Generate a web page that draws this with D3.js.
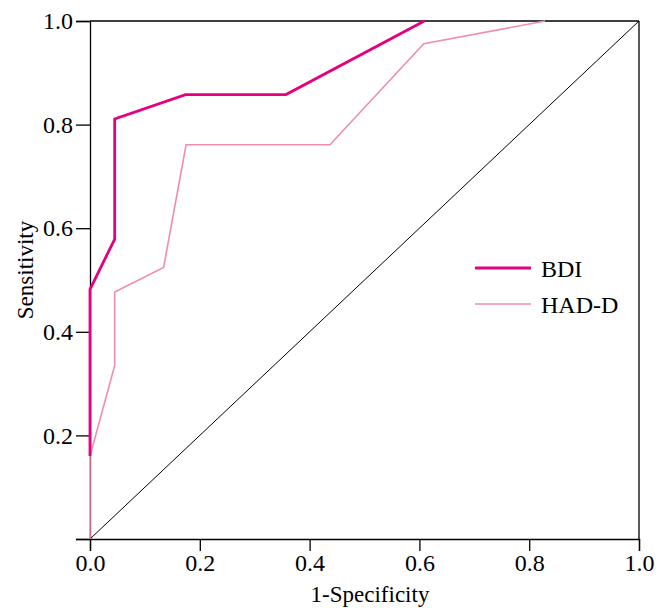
<!DOCTYPE html>
<html><head><meta charset="utf-8">
<script src="https://cdn.jsdelivr.net/npm/d3@7/dist/d3.min.js"></script>
<style>body{margin:0;background:#fff}text{font-family:"Liberation Serif","Times New Roman",serif}</style>
</head><body><svg id="c" width="664" height="608"></svg>
<script>
const bdiX = [0, 0, 0.045, 0.045, 0.174, 0.357, 0.609];
const bdiY = [0.16, 0.482, 0.579, 0.811, 0.858, 0.858, 1.0];
const hadX = [0, 0, 0.045, 0.045, 0.134, 0.175, 0.437, 0.608, 0.829];
const hadY = [0, 0.16, 0.335, 0.477, 0.524, 0.761, 0.761, 0.956, 1.0];
const ticks = [0, 0.2, 0.4, 0.6, 0.8, 1.0];
const seriesNames = ["BDI", "HAD-D"];
const colors = ["#E4007F", "#F08DAB"];

const FS = 23, TFS = 24;
const svg = d3.select("#c");
const L=90, R=639, T=21, B=539;
const x = d3.scaleLinear().domain([0,1]).range([L,R]);
const y = d3.scaleLinear().domain([0,1]).range([B,T]);

// frame
svg.append("line").attr("x1",L).attr("x2",R).attr("y1",T).attr("y2",T).attr("stroke","#000").attr("stroke-width",1.3);
svg.append("line").attr("x1",R).attr("x2",R).attr("y1",T).attr("y2",B).attr("stroke","#000").attr("stroke-width",1.3);

const xa = svg.append("g").attr("transform",`translate(0,${B})`)
  .call(d3.axisBottom(x).tickValues(ticks).tickFormat(d3.format(".1f")).tickSizeOuter(0).tickSize(12).tickPadding(3));
const ya = svg.append("g").attr("transform",`translate(${L},0)`)
  .call(d3.axisLeft(y).tickValues(ticks).tickFormat(d=>d===0?"":d3.format(".1f")(d)).tickSizeOuter(0).tickSize(14).tickPadding(3));
[xa,ya].forEach(a=>{a.attr("font-size",TFS).attr("font-family",null);
  a.select(".domain").attr("stroke","#000").attr("stroke-width",1.3);
  a.selectAll(".tick line").attr("stroke","#000").attr("stroke-width",1.3);
  a.selectAll("text").attr("font-size",TFS).attr("fill","#000");});

// diagonal
svg.append("line").attr("x1",x(0)).attr("y1",y(0)).attr("x2",x(1)).attr("y2",y(1)).attr("stroke","#000").attr("stroke-width",1);

const line = d3.line().x(d=>x(d[0])).y(d=>y(d[1]));
svg.append("path").datum(hadX.map((v,i)=>[v,hadY[i]])).attr("d",line).attr("fill","none").attr("stroke",colors[1]).attr("stroke-width",1.6);
svg.append("path").datum(bdiX.map((v,i)=>[v,bdiY[i]])).attr("d",line).attr("fill","none").attr("stroke",colors[0]).attr("stroke-width",2.8).attr("stroke-linejoin","miter");

// legend
seriesNames.forEach((n,i)=>{
  const yy = 268 + i*36;
  svg.append("line").attr("x1",475).attr("x2",531).attr("y1",yy).attr("y2",yy).attr("stroke",colors[i]).attr("stroke-width",i===0?2.8:1.6);
  svg.append("text").attr("x",541).attr("y",yy+8.5).attr("font-size",24).attr("fill","#000").text(n);
});

svg.append("text").attr("x",370).attr("y",602).attr("text-anchor","middle").attr("font-size",FS).text("1-Specificity");
svg.append("text").attr("transform",`translate(33,270) rotate(-90)`).attr("text-anchor","middle").attr("font-size",FS).text("Sensitivity");
</script></body></html>
